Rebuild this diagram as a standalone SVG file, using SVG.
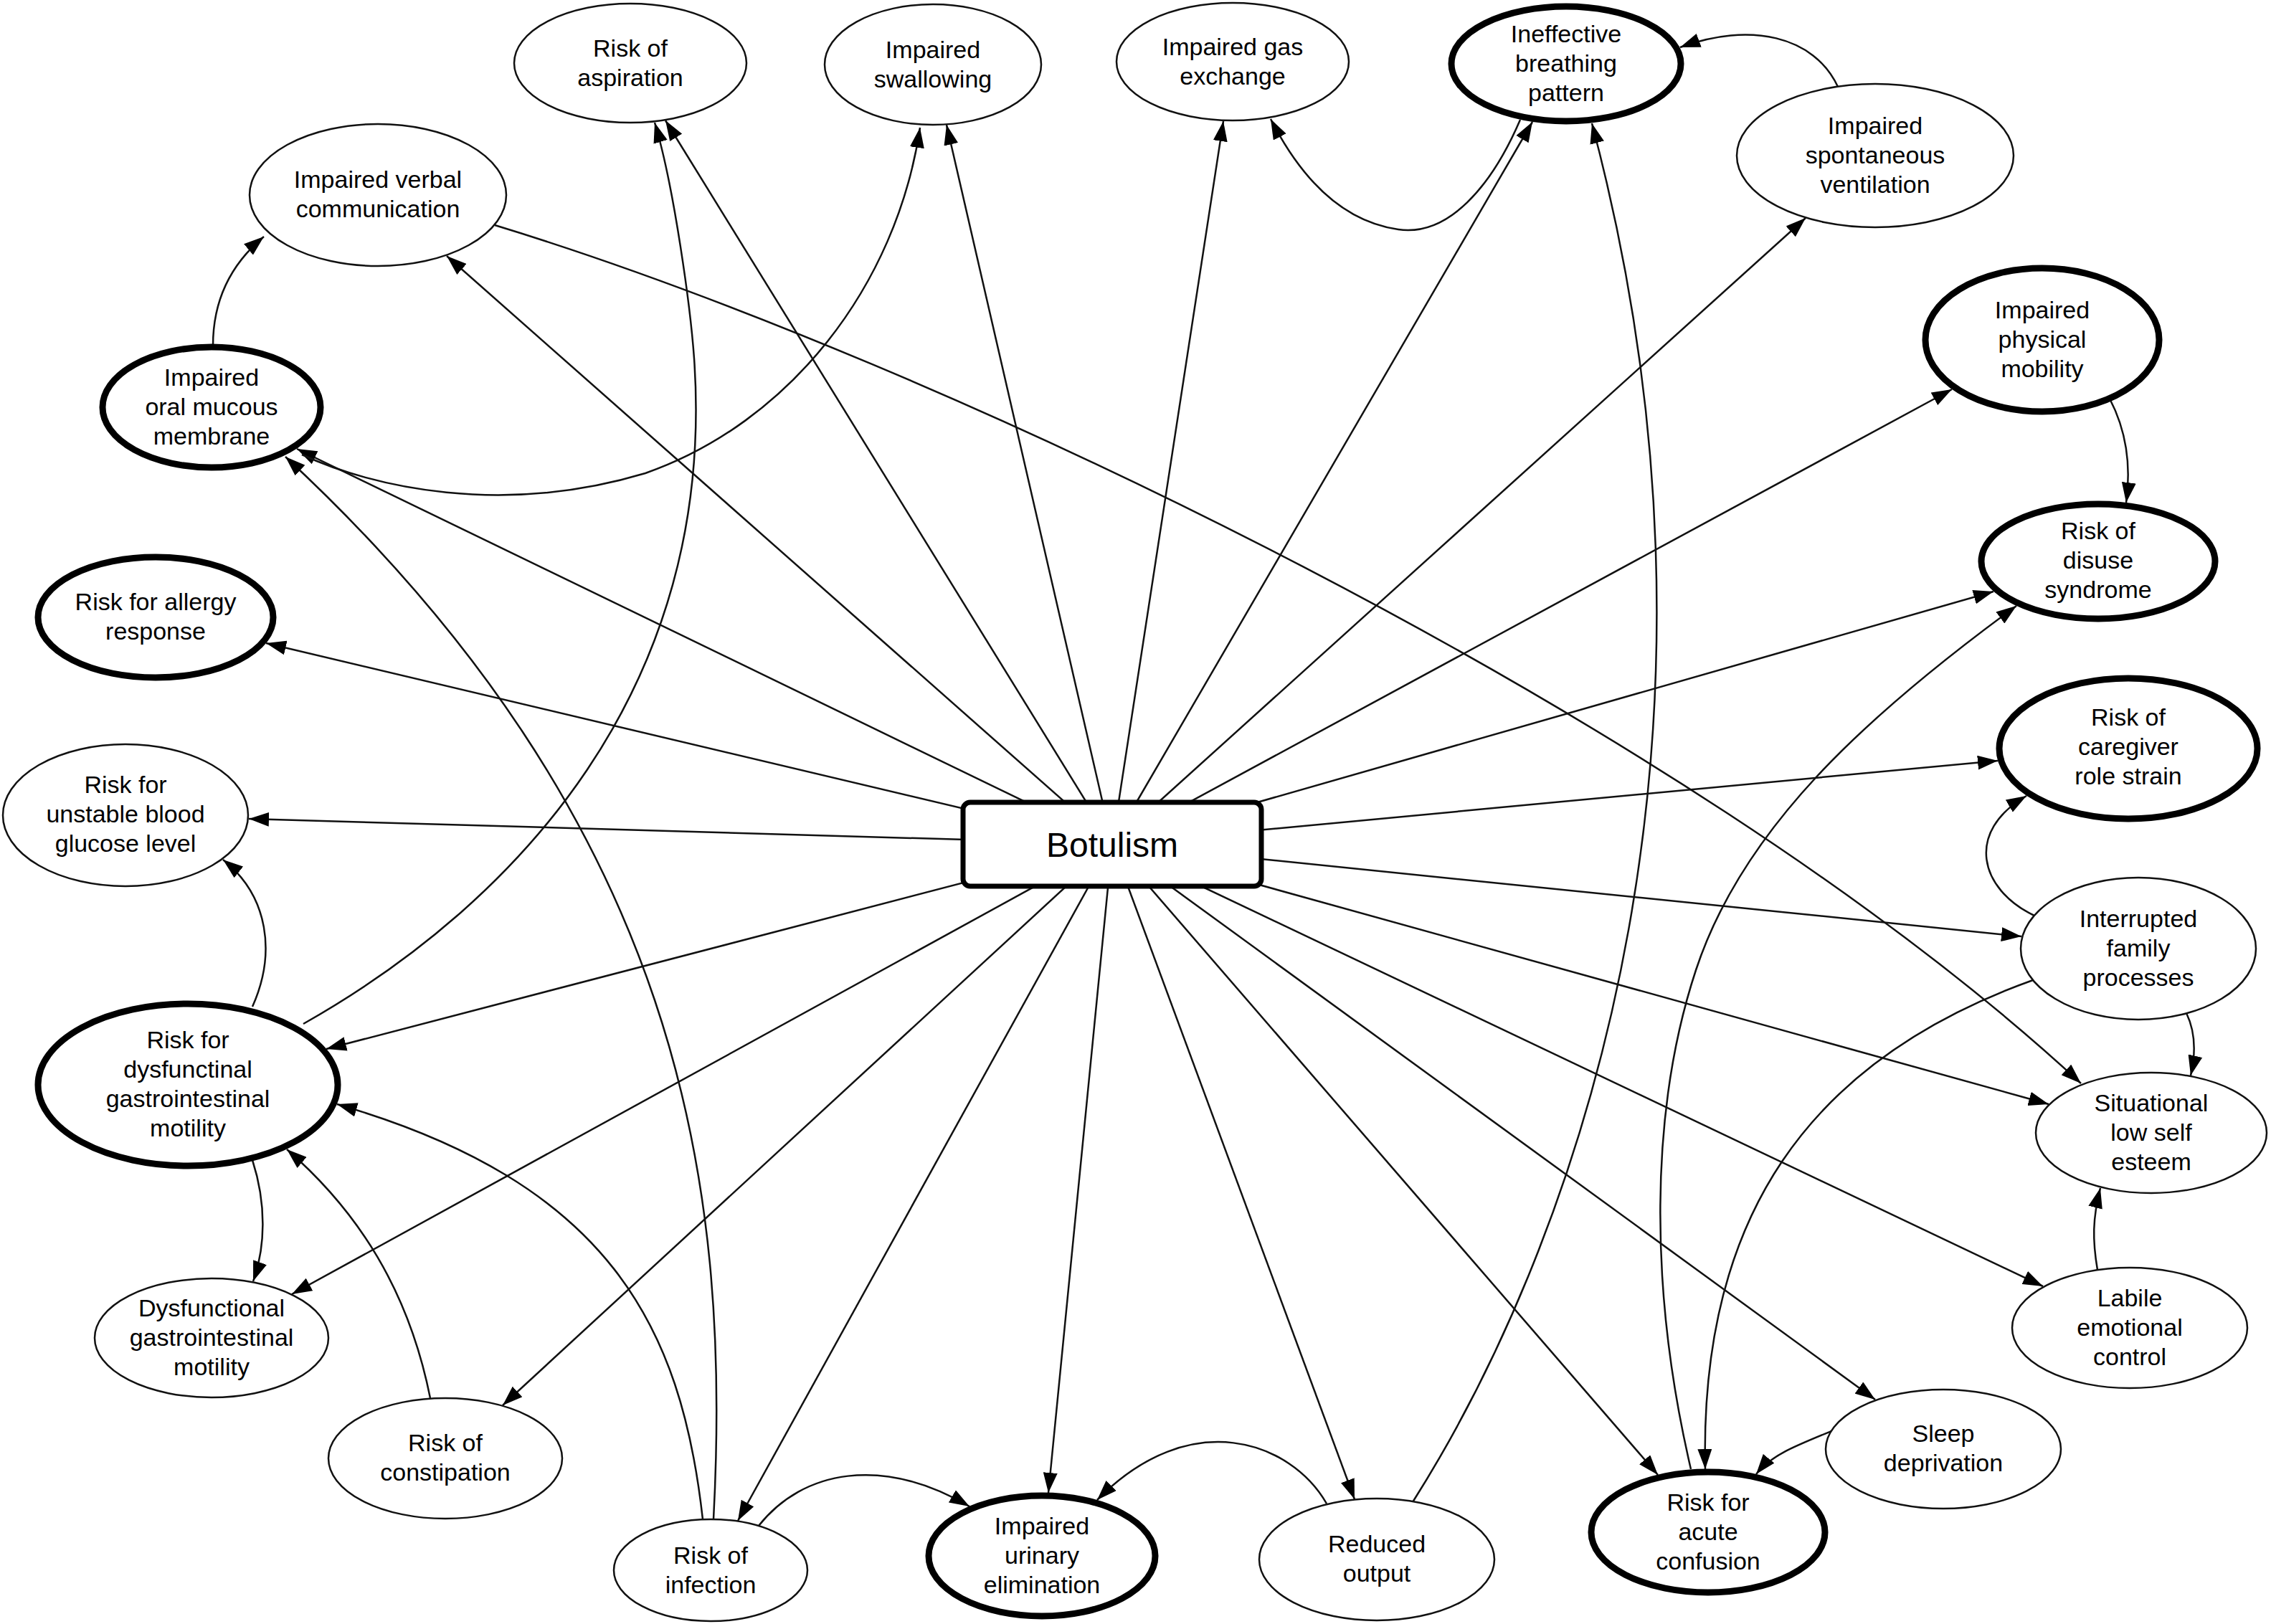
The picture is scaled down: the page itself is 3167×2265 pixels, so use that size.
<svg xmlns="http://www.w3.org/2000/svg" width="3167" height="2265" viewBox="0 0 3167 2265">
<defs>
<marker id="ah" markerWidth="28" markerHeight="20" refX="28" refY="10" orient="auto" markerUnits="userSpaceOnUse"><path d="M0,0 L28,10 L0,20 z" fill="#000"/></marker>
<style>
.e{fill:none;stroke:#111;stroke-width:2.5;marker-end:url(#ah)}
.n{fill:#fff;stroke:#111;stroke-width:2.5}
.b{fill:#fff;stroke:#000;stroke-width:9}
text{font-family:"Liberation Sans",Arial,sans-serif;font-size:34px;fill:#000;text-anchor:middle}
</style>
</defs>
<rect width="3167" height="2265" fill="#fff"/>
<g id="connectors">
<path class="e" d="M1551,1177 L928,168"/>
<path class="e" d="M1551,1177 L1320,174"/>
<path class="e" d="M1551,1177 L1706,169"/>
<path class="e" d="M1551,1177 L2137,170"/>
<path class="e" d="M1551,1177 L2518,304"/>
<path class="e" d="M1551,1177 L623,357"/>
<path class="e" d="M1551,1177 L414,626"/>
<path class="e" d="M1551,1177 L2722,543"/>
<path class="e" d="M1551,1177 L2780,825"/>
<path class="e" d="M1551,1177 L371,897"/>
<path class="e" d="M1551,1177 L2786,1061"/>
<path class="e" d="M1551,1177 L347,1142"/>
<path class="e" d="M1551,1177 L2819,1306"/>
<path class="e" d="M1551,1177 L455,1463"/>
<path class="e" d="M1551,1177 L2857,1540"/>
<path class="e" d="M1551,1177 L407,1805"/>
<path class="e" d="M1551,1177 L2849,1794"/>
<path class="e" d="M1551,1177 L701,1960"/>
<path class="e" d="M1551,1177 L2615,1952"/>
<path class="e" d="M1551,1177 L1029,2121"/>
<path class="e" d="M1551,1177 L1462,2082"/>
<path class="e" d="M1551,1177 L1889,2091"/>
<path class="e" d="M1551,1177 L2312,2057"/>
<path class="e" d="M297,482 C297,420 320,370 368,330"/>
<path class="e" d="M421,634 C520,680 700,720 900,660 C1100,590 1250,400 1283,178"/>
<path class="e" d="M995,2119 C1020,1650 950,1150 398,637"/>
<path class="e" d="M423,1428 C720,1260 1000,960 968,500 C963,430 940,260 913,171"/>
<path class="e" d="M980,2119 C950,1850 850,1650 470,1540"/>
<path class="e" d="M600,1950 C570,1800 500,1690 400,1603"/>
<path class="e" d="M352,1618 C372,1680 370,1740 353,1787"/>
<path class="e" d="M352,1404 C385,1330 375,1250 311,1199"/>
<path class="e" d="M1058,2128 C1120,2050 1230,2030 1352,2101"/>
<path class="e" d="M1850,2097 C1800,2010 1660,1960 1530,2092"/>
<path class="e" d="M1970,2095 C2220,1700 2440,1000 2220,172"/>
<path class="e" d="M2120,167 C2080,260 2020,330 1950,320 C1880,310 1820,260 1772,166"/>
<path class="e" d="M2563,121 C2530,50 2440,30 2343,66"/>
<path class="e" d="M2942,556 C2965,600 2972,650 2965,701"/>
<path class="e" d="M2837,1277 C2760,1240 2740,1160 2826,1110"/>
<path class="e" d="M3049,1413 C3062,1440 3062,1470 3055,1500"/>
<path class="e" d="M2925,1771 C2918,1730 2918,1700 2929,1657"/>
<path class="e" d="M2554,1996 C2500,2018 2470,2030 2449,2056"/>
<path class="e" d="M2835,1367 C2520,1480 2370,1700 2378,2049"/>
<path class="e" d="M2358,2049 C2300,1800 2300,1550 2365,1353 C2430,1156 2600,1000 2812,845"/>
<path class="e" d="M690,314 C1300,500 2350,1000 2902,1511"/>
</g>
<g id="nodes">
<g id="botulism"><rect x="1343" y="1119" width="416" height="117" rx="10" fill="#fff" stroke="#000" stroke-width="7"/><text x="1551" y="1195" style="font-size:48px">Botulism</text></g>
<g id="aspiration"><ellipse class="n" cx="879" cy="88" rx="162" ry="83"/><text x="879" y="79">Risk of</text><text x="879" y="120">aspiration</text></g>
<g id="swallowing"><ellipse class="n" cx="1301" cy="90" rx="151" ry="84"/><text x="1301" y="81">Impaired</text><text x="1301" y="122">swallowing</text></g>
<g id="gas"><ellipse class="n" cx="1719" cy="86" rx="162" ry="82"/><text x="1719" y="77">Impaired gas</text><text x="1719" y="118">exchange</text></g>
<g id="breathing"><ellipse class="b" cx="2184" cy="89" rx="160" ry="80"/><text x="2184" y="59">Ineffective</text><text x="2184" y="100">breathing</text><text x="2184" y="141">pattern</text></g>
<g id="ventilation"><ellipse class="n" cx="2615" cy="217" rx="193" ry="100"/><text x="2615" y="187">Impaired</text><text x="2615" y="228">spontaneous</text><text x="2615" y="269">ventilation</text></g>
<g id="verbal"><ellipse class="n" cx="527" cy="272" rx="179" ry="99"/><text x="527" y="262">Impaired verbal</text><text x="527" y="303">communication</text></g>
<g id="oral"><ellipse class="b" cx="295" cy="568" rx="152" ry="84"/><text x="295" y="538">Impaired</text><text x="295" y="579">oral mucous</text><text x="295" y="620">membrane</text></g>
<g id="mobility"><ellipse class="b" cx="2848" cy="474" rx="163" ry="100"/><text x="2848" y="444">Impaired</text><text x="2848" y="485">physical</text><text x="2848" y="526">mobility</text></g>
<g id="disuse"><ellipse class="b" cx="2926" cy="783" rx="163" ry="80"/><text x="2926" y="752">Risk of</text><text x="2926" y="793">disuse</text><text x="2926" y="834">syndrome</text></g>
<g id="allergy"><ellipse class="b" cx="217" cy="861" rx="164" ry="84"/><text x="217" y="851">Risk for allergy</text><text x="217" y="892">response</text></g>
<g id="caregiver"><ellipse class="b" cx="2968" cy="1044" rx="180" ry="98"/><text x="2968" y="1012">Risk of</text><text x="2968" y="1053">caregiver</text><text x="2968" y="1094">role strain</text></g>
<g id="glucose"><ellipse class="n" cx="175" cy="1137" rx="171" ry="99"/><text x="175" y="1106">Risk for</text><text x="175" y="1147">unstable blood</text><text x="175" y="1188">glucose level</text></g>
<g id="family"><ellipse class="n" cx="2982" cy="1323" rx="164" ry="99"/><text x="2982" y="1293">Interrupted</text><text x="2982" y="1334">family</text><text x="2982" y="1375">processes</text></g>
<g id="riskgi"><ellipse class="b" cx="262" cy="1513" rx="209" ry="113"/><text x="262" y="1462">Risk for</text><text x="262" y="1503">dysfunctinal</text><text x="262" y="1544">gastrointestinal</text><text x="262" y="1585">motility</text></g>
<g id="esteem"><ellipse class="n" cx="3000" cy="1580" rx="161" ry="84"/><text x="3000" y="1550">Situational</text><text x="3000" y="1591">low self</text><text x="3000" y="1632">esteem</text></g>
<g id="dysgi"><ellipse class="n" cx="295" cy="1866" rx="163" ry="83"/><text x="295" y="1836">Dysfunctional</text><text x="295" y="1877">gastrointestinal</text><text x="295" y="1918">motility</text></g>
<g id="labile"><ellipse class="n" cx="2970" cy="1852" rx="164" ry="84"/><text x="2970" y="1822">Labile</text><text x="2970" y="1863">emotional</text><text x="2970" y="1904">control</text></g>
<g id="constipation"><ellipse class="n" cx="621" cy="2034" rx="163" ry="84"/><text x="621" y="2024">Risk of</text><text x="621" y="2065">constipation</text></g>
<g id="sleep"><ellipse class="n" cx="2710" cy="2021" rx="164" ry="83"/><text x="2710" y="2011">Sleep</text><text x="2710" y="2052">deprivation</text></g>
<g id="infection"><ellipse class="n" cx="991" cy="2190" rx="135" ry="71"/><text x="991" y="2181">Risk of</text><text x="991" y="2222">infection</text></g>
<g id="urinary"><ellipse class="b" cx="1453" cy="2170" rx="158" ry="84"/><text x="1453" y="2140">Impaired</text><text x="1453" y="2181">urinary</text><text x="1453" y="2222">elimination</text></g>
<g id="reduced"><ellipse class="n" cx="1920" cy="2175" rx="164" ry="85"/><text x="1920" y="2165">Reduced</text><text x="1920" y="2206">output</text></g>
<g id="confusion"><ellipse class="b" cx="2382" cy="2137" rx="163" ry="84"/><text x="2382" y="2107">Risk for</text><text x="2382" y="2148">acute</text><text x="2382" y="2189">confusion</text></g>
</g>
</svg>
